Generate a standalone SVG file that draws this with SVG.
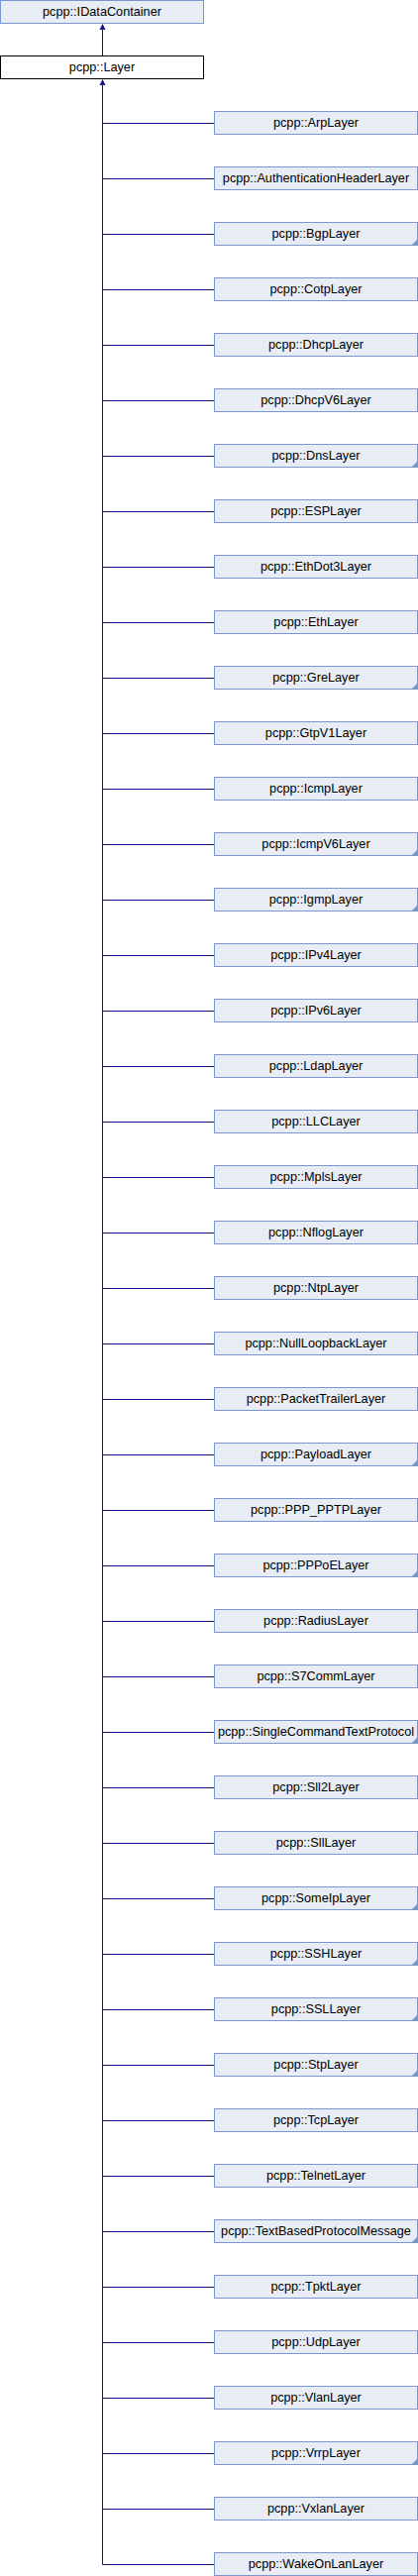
<svg xmlns="http://www.w3.org/2000/svg" xmlns:xlink="http://www.w3.org/1999/xlink" width="422" height="2600" viewBox="0 0 422 2600">
<style>
.n rect{fill:#e8ecf4;stroke:#7b96cc;stroke-width:1}
.cur rect{fill:#ffffff;stroke:#000000;stroke-width:1}
text{font-family:"Liberation Sans",Arial,sans-serif;font-size:12.7px;fill:#000;text-anchor:middle}
.fold{fill:#7b96cc}
.e line{stroke:#14148c;stroke-width:1}
.e polygon{fill:#14148c}
</style>
<defs>
<polygon id="fold" class="fold" points="205,17 205,23 199,23"/>
</defs>
<rect width="422" height="2600" fill="#fff"/>
<g id="edges" class="e">
<line x1="103.5" y1="30" x2="103.5" y2="56"/>
<polygon points="103.5,24 100.5,30 106.5,30"/>
<line x1="103.5" y1="86" x2="103.5" y2="2588.5"/>
<polygon points="103.5,80 100.5,86 106.5,86"/>
<line x1="103.5" y1="124.5" x2="216" y2="124.5"/>
<line x1="103.5" y1="180.5" x2="216" y2="180.5"/>
<line x1="103.5" y1="236.5" x2="216" y2="236.5"/>
<line x1="103.5" y1="292.5" x2="216" y2="292.5"/>
<line x1="103.5" y1="348.5" x2="216" y2="348.5"/>
<line x1="103.5" y1="404.5" x2="216" y2="404.5"/>
<line x1="103.5" y1="460.5" x2="216" y2="460.5"/>
<line x1="103.5" y1="516.5" x2="216" y2="516.5"/>
<line x1="103.5" y1="572.5" x2="216" y2="572.5"/>
<line x1="103.5" y1="628.5" x2="216" y2="628.5"/>
<line x1="103.5" y1="684.5" x2="216" y2="684.5"/>
<line x1="103.5" y1="740.5" x2="216" y2="740.5"/>
<line x1="103.5" y1="796.5" x2="216" y2="796.5"/>
<line x1="103.5" y1="852.5" x2="216" y2="852.5"/>
<line x1="103.5" y1="908.5" x2="216" y2="908.5"/>
<line x1="103.5" y1="964.5" x2="216" y2="964.5"/>
<line x1="103.5" y1="1020.5" x2="216" y2="1020.5"/>
<line x1="103.5" y1="1076.5" x2="216" y2="1076.5"/>
<line x1="103.5" y1="1132.5" x2="216" y2="1132.5"/>
<line x1="103.5" y1="1188.5" x2="216" y2="1188.5"/>
<line x1="103.5" y1="1244.5" x2="216" y2="1244.5"/>
<line x1="103.5" y1="1300.5" x2="216" y2="1300.5"/>
<line x1="103.5" y1="1356.5" x2="216" y2="1356.5"/>
<line x1="103.5" y1="1412.5" x2="216" y2="1412.5"/>
<line x1="103.5" y1="1468.5" x2="216" y2="1468.5"/>
<line x1="103.5" y1="1524.5" x2="216" y2="1524.5"/>
<line x1="103.5" y1="1580.5" x2="216" y2="1580.5"/>
<line x1="103.5" y1="1636.5" x2="216" y2="1636.5"/>
<line x1="103.5" y1="1692.5" x2="216" y2="1692.5"/>
<line x1="103.5" y1="1748.5" x2="216" y2="1748.5"/>
<line x1="103.5" y1="1804.5" x2="216" y2="1804.5"/>
<line x1="103.5" y1="1860.5" x2="216" y2="1860.5"/>
<line x1="103.5" y1="1916.5" x2="216" y2="1916.5"/>
<line x1="103.5" y1="1972.5" x2="216" y2="1972.5"/>
<line x1="103.5" y1="2028.5" x2="216" y2="2028.5"/>
<line x1="103.5" y1="2084.5" x2="216" y2="2084.5"/>
<line x1="103.5" y1="2140.5" x2="216" y2="2140.5"/>
<line x1="103.5" y1="2196.5" x2="216" y2="2196.5"/>
<line x1="103.5" y1="2252.5" x2="216" y2="2252.5"/>
<line x1="103.5" y1="2308.5" x2="216" y2="2308.5"/>
<line x1="103.5" y1="2364.5" x2="216" y2="2364.5"/>
<line x1="103.5" y1="2420.5" x2="216" y2="2420.5"/>
<line x1="103.5" y1="2476.5" x2="216" y2="2476.5"/>
<line x1="103.5" y1="2532.5" x2="216" y2="2532.5"/>
<line x1="103.5" y1="2588.5" x2="216" y2="2588.5"/>
</g>
<g id="IDataContainer" class="n" transform="translate(0.5,0.5)"><rect width="205" height="23"/><text x="102.5" y="15">pcpp::IDataContainer</text></g>
<g id="Layer" class="cur" transform="translate(0.5,56.5)"><rect width="205" height="23"/><text x="102.5" y="15">pcpp::Layer</text></g>
<g id="ArpLayer" class="n" transform="translate(216.5,112.5)"><rect width="205" height="23"/><text x="102.5" y="15">pcpp::ArpLayer</text></g>
<g id="AuthenticationHeaderLayer" class="n" transform="translate(216.5,168.5)"><rect width="205" height="23"/><text x="102.5" y="15">pcpp::AuthenticationHeaderLayer</text></g>
<g id="BgpLayer" class="n" transform="translate(216.5,224.5)"><rect width="205" height="23"/><text x="102.5" y="15">pcpp::BgpLayer</text><use xlink:href="#fold"/></g>
<g id="CotpLayer" class="n" transform="translate(216.5,280.5)"><rect width="205" height="23"/><text x="102.5" y="15">pcpp::CotpLayer</text></g>
<g id="DhcpLayer" class="n" transform="translate(216.5,336.5)"><rect width="205" height="23"/><text x="102.5" y="15">pcpp::DhcpLayer</text></g>
<g id="DhcpV6Layer" class="n" transform="translate(216.5,392.5)"><rect width="205" height="23"/><text x="102.5" y="15">pcpp::DhcpV6Layer</text></g>
<g id="DnsLayer" class="n" transform="translate(216.5,448.5)"><rect width="205" height="23"/><text x="102.5" y="15">pcpp::DnsLayer</text><use xlink:href="#fold"/></g>
<g id="ESPLayer" class="n" transform="translate(216.5,504.5)"><rect width="205" height="23"/><text x="102.5" y="15">pcpp::ESPLayer</text></g>
<g id="EthDot3Layer" class="n" transform="translate(216.5,560.5)"><rect width="205" height="23"/><text x="102.5" y="15">pcpp::EthDot3Layer</text></g>
<g id="EthLayer" class="n" transform="translate(216.5,616.5)"><rect width="205" height="23"/><text x="102.5" y="15">pcpp::EthLayer</text></g>
<g id="GreLayer" class="n" transform="translate(216.5,672.5)"><rect width="205" height="23"/><text x="102.5" y="15">pcpp::GreLayer</text><use xlink:href="#fold"/></g>
<g id="GtpV1Layer" class="n" transform="translate(216.5,728.5)"><rect width="205" height="23"/><text x="102.5" y="15">pcpp::GtpV1Layer</text></g>
<g id="IcmpLayer" class="n" transform="translate(216.5,784.5)"><rect width="205" height="23"/><text x="102.5" y="15">pcpp::IcmpLayer</text></g>
<g id="IcmpV6Layer" class="n" transform="translate(216.5,840.5)"><rect width="205" height="23"/><text x="102.5" y="15">pcpp::IcmpV6Layer</text><use xlink:href="#fold"/></g>
<g id="IgmpLayer" class="n" transform="translate(216.5,896.5)"><rect width="205" height="23"/><text x="102.5" y="15">pcpp::IgmpLayer</text><use xlink:href="#fold"/></g>
<g id="IPv4Layer" class="n" transform="translate(216.5,952.5)"><rect width="205" height="23"/><text x="102.5" y="15">pcpp::IPv4Layer</text></g>
<g id="IPv6Layer" class="n" transform="translate(216.5,1008.5)"><rect width="205" height="23"/><text x="102.5" y="15">pcpp::IPv6Layer</text></g>
<g id="LdapLayer" class="n" transform="translate(216.5,1064.5)"><rect width="205" height="23"/><text x="102.5" y="15">pcpp::LdapLayer</text></g>
<g id="LLCLayer" class="n" transform="translate(216.5,1120.5)"><rect width="205" height="23"/><text x="102.5" y="15">pcpp::LLCLayer</text></g>
<g id="MplsLayer" class="n" transform="translate(216.5,1176.5)"><rect width="205" height="23"/><text x="102.5" y="15">pcpp::MplsLayer</text></g>
<g id="NflogLayer" class="n" transform="translate(216.5,1232.5)"><rect width="205" height="23"/><text x="102.5" y="15">pcpp::NflogLayer</text></g>
<g id="NtpLayer" class="n" transform="translate(216.5,1288.5)"><rect width="205" height="23"/><text x="102.5" y="15">pcpp::NtpLayer</text></g>
<g id="NullLoopbackLayer" class="n" transform="translate(216.5,1344.5)"><rect width="205" height="23"/><text x="102.5" y="15">pcpp::NullLoopbackLayer</text></g>
<g id="PacketTrailerLayer" class="n" transform="translate(216.5,1400.5)"><rect width="205" height="23"/><text x="102.5" y="15">pcpp::PacketTrailerLayer</text></g>
<g id="PayloadLayer" class="n" transform="translate(216.5,1456.5)"><rect width="205" height="23"/><text x="102.5" y="15">pcpp::PayloadLayer</text><use xlink:href="#fold"/></g>
<g id="PPP_PPTPLayer" class="n" transform="translate(216.5,1512.5)"><rect width="205" height="23"/><text x="102.5" y="15">pcpp::PPP_PPTPLayer</text></g>
<g id="PPPoELayer" class="n" transform="translate(216.5,1568.5)"><rect width="205" height="23"/><text x="102.5" y="15">pcpp::PPPoELayer</text><use xlink:href="#fold"/></g>
<g id="RadiusLayer" class="n" transform="translate(216.5,1624.5)"><rect width="205" height="23"/><text x="102.5" y="15">pcpp::RadiusLayer</text></g>
<g id="S7CommLayer" class="n" transform="translate(216.5,1680.5)"><rect width="205" height="23"/><text x="102.5" y="15">pcpp::S7CommLayer</text></g>
<g id="SingleCommandTextProtocol" class="n" transform="translate(216.5,1736.5)"><rect width="205" height="23"/><text x="102.5" y="15">pcpp::SingleCommandTextProtocol</text><use xlink:href="#fold"/></g>
<g id="Sll2Layer" class="n" transform="translate(216.5,1792.5)"><rect width="205" height="23"/><text x="102.5" y="15">pcpp::Sll2Layer</text></g>
<g id="SllLayer" class="n" transform="translate(216.5,1848.5)"><rect width="205" height="23"/><text x="102.5" y="15">pcpp::SllLayer</text></g>
<g id="SomeIpLayer" class="n" transform="translate(216.5,1904.5)"><rect width="205" height="23"/><text x="102.5" y="15">pcpp::SomeIpLayer</text><use xlink:href="#fold"/></g>
<g id="SSHLayer" class="n" transform="translate(216.5,1960.5)"><rect width="205" height="23"/><text x="102.5" y="15">pcpp::SSHLayer</text><use xlink:href="#fold"/></g>
<g id="SSLLayer" class="n" transform="translate(216.5,2016.5)"><rect width="205" height="23"/><text x="102.5" y="15">pcpp::SSLLayer</text><use xlink:href="#fold"/></g>
<g id="StpLayer" class="n" transform="translate(216.5,2072.5)"><rect width="205" height="23"/><text x="102.5" y="15">pcpp::StpLayer</text><use xlink:href="#fold"/></g>
<g id="TcpLayer" class="n" transform="translate(216.5,2128.5)"><rect width="205" height="23"/><text x="102.5" y="15">pcpp::TcpLayer</text></g>
<g id="TelnetLayer" class="n" transform="translate(216.5,2184.5)"><rect width="205" height="23"/><text x="102.5" y="15">pcpp::TelnetLayer</text></g>
<g id="TextBasedProtocolMessage" class="n" transform="translate(216.5,2240.5)"><rect width="205" height="23"/><text x="102.5" y="15">pcpp::TextBasedProtocolMessage</text><use xlink:href="#fold"/></g>
<g id="TpktLayer" class="n" transform="translate(216.5,2296.5)"><rect width="205" height="23"/><text x="102.5" y="15">pcpp::TpktLayer</text></g>
<g id="UdpLayer" class="n" transform="translate(216.5,2352.5)"><rect width="205" height="23"/><text x="102.5" y="15">pcpp::UdpLayer</text></g>
<g id="VlanLayer" class="n" transform="translate(216.5,2408.5)"><rect width="205" height="23"/><text x="102.5" y="15">pcpp::VlanLayer</text></g>
<g id="VrrpLayer" class="n" transform="translate(216.5,2464.5)"><rect width="205" height="23"/><text x="102.5" y="15">pcpp::VrrpLayer</text><use xlink:href="#fold"/></g>
<g id="VxlanLayer" class="n" transform="translate(216.5,2520.5)"><rect width="205" height="23"/><text x="102.5" y="15">pcpp::VxlanLayer</text></g>
<g id="WakeOnLanLayer" class="n" transform="translate(216.5,2576.5)"><rect width="205" height="23"/><text x="102.5" y="15">pcpp::WakeOnLanLayer</text></g>
</svg>
